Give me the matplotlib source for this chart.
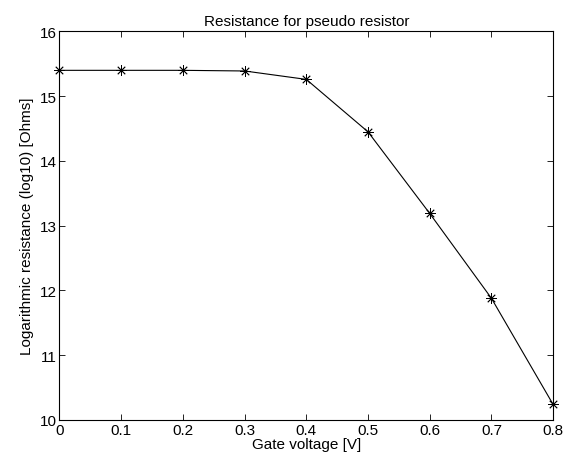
import matplotlib
matplotlib.use("Agg")
import matplotlib.pyplot as plt

plt.rcParams['font.family'] = ['Liberation Sans', 'DejaVu Sans']

gate_voltage = [0, 0.1, 0.2, 0.3, 0.4, 0.5, 0.6, 0.7, 0.8]
log_resistance = [15.40, 15.40, 15.40, 15.39, 15.26, 14.45, 13.19, 11.88, 10.24]
xticks = [0, 0.1, 0.2, 0.3, 0.4, 0.5, 0.6, 0.7, 0.8]
xticklabels = ['0', '0.1', '0.2', '0.3', '0.4', '0.5', '0.6', '0.7', '0.8']
yticks = [10, 11, 12, 13, 14, 15, 16]

fig = plt.figure(figsize=(5.81, 4.64), dpi=100)
ax = fig.add_axes([0.1024, 0.0927, 0.8496, 0.8373])
ax.plot(gate_voltage, log_resistance, color='black', linewidth=0.8, clip_on=False)
ax.plot(gate_voltage, log_resistance, linestyle='none', color='black',
        marker=(8, 2, 0), markersize=7.5, markeredgewidth=0.6, clip_on=False)
ax.set_xlim(0, 0.8)
ax.set_ylim(10, 16)
ax.set_xticks(xticks)
ax.set_xticklabels(xticklabels)
ax.set_yticks(yticks)
ax.tick_params(direction='in', top=True, right=True, labelsize=11, length=4, width=0.6, pad=2)
for s in ax.spines.values():
    s.set_linewidth(0.8)
ax.set_xlabel('Gate voltage [V]', fontsize=11, labelpad=0)
ax.set_ylabel('Logarithmic resistance (log10) [Ohms]', fontsize=11, labelpad=4)
ax.set_title('Resistance for pseudo resistor', fontsize=11, pad=5)
fig.savefig('out.png', dpi=100)
